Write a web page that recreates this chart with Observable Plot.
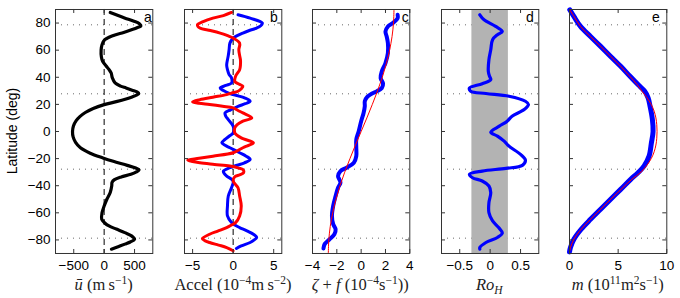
<!DOCTYPE html>
<html><head><meta charset="utf-8">
<script src="https://cdn.jsdelivr.net/npm/d3@7"></script>
<script src="https://cdn.jsdelivr.net/npm/@observablehq/plot@0.6"></script>
<style>
body{margin:0;background:#fff;}
#wrap{position:relative;width:680px;height:298px;overflow:hidden;background:#fff;}
#wrap svg{position:absolute;top:0;}
</style></head><body><div id="wrap"></div>
<script>
// ---- shared ----
const latTicks = [-80, -60, -40, -20, 0, 20, 40, 60, 80];
const dottedLats = [78.7, 27.8, -27.8, -78.7];

// ---- panel a: mean zonal wind ----
const latA = [87.8,85.5,83.6,81.5,79.5,78,76.5,75,73,71.4,69.5,67.7,64,60,55,51.8,48.5,46,43.2,39.5,35.8,33.5,32.1,30.5,29.2,28,26.8,25.5,24,22,19.8,17,14,11,8,4,0,-4,-8,-12,-16,-19.5,-22,-25,-27,-28.3,-29.8,-31.6,-33.5,-35.5,-37.5,-40,-45,-50,-55,-60,-64.8,-67.5,-69.7,-72,-74.6,-77,-79.5,-81.5,-83.1,-85,-86.8];
const uA = [100,230,345,480,580,605,540,450,320,190,80,10,-35,-50,-45,-25,30,75,115,135,180,270,360,460,540,570,530,460,360,200,0,-180,-310,-400,-460,-505,-520,-510,-470,-390,-230,-20,150,380,520,575,530,440,280,170,130,125,100,45,0,-35,-40,10,80,200,340,450,500,430,340,230,120];

// ---- panel b: accelerations ----
const latBred = [87.8,85.5,83.6,81,78.7,76.3,74.5,72.6,70.5,68.9,65.2,60.3,56,53,49,45.6,40.7,37,35,33.4,31.5,29.7,28.3,27.2,25.3,23.5,21.8,20.8,19.9,18.6,17.4,15.5,13.7,10.1,7.6,5,2.7,-1,-4.7,-8.3,-10.2,-12,-15.7,-18.2,-19.8,-21.1,-22.2,-23.1,-24.3,-25.5,-27,-28,-30.4,-32,-33.4,-36.5,-41.5,-47.6,-54.9,-62.3,-67.2,-69,-70.9,-73.5,-75.8,-79,-80.5,-81.9,-83.8,-85.6,-88];
const accBred = [-0.2,-1.2,-2.5,-3.7,-4.4,-4.1,-2.8,-1.6,-0.6,0,0.8,0.7,0.8,0.9,0.9,0.8,0.3,0.2,0.7,1.2,1.0,0.6,-0.2,-0.8,-2.5,-4.1,-5.0,-4.2,-2.9,-1.3,0,0.6,1.2,2.3,1.2,0.5,0.2,0.2,1.0,2.5,1.9,1.2,0,-2.5,-4.2,-5.6,-5.0,-4.1,-2.3,-0.4,0.7,1.2,1.3,0.8,0.2,0,0.6,0.8,1.0,0.8,0.3,-0.2,-0.8,-1.9,-2.9,-3.8,-3.5,-2.9,-1.8,-0.8,0];
const latBblue = [86.1,83.6,80,78,76.3,74.5,72.6,70.7,68.9,65.2,60.3,56,53,49,45.6,42,39.5,35.8,34,32.1,30.2,28,26.3,24.8,22.3,20.5,18.6,16,13.7,11.2,8.8,3.9,-1,-3.5,-5.9,-8.3,-10.2,-12,-15.7,-18.2,-20.6,-23.1,-24.9,-26.7,-29.2,-31,-32.9,-36.5,-41.5,-47.6,-54.9,-62.3,-67.2,-69,-70.9,-73.3,-75.8,-78.2,-80,-81.9,-84.4,-86.3];
const accBblue = [0.6,2.1,3.6,3.4,2.9,2.0,1.2,0.5,0,-0.4,-0.5,-0.6,-0.7,-0.8,-0.7,-0.5,-0.2,-0.2,-0.9,-1.6,-1.2,-0.4,0.6,1.4,2.1,1.5,0.6,-0.3,-1.0,-0.9,-0.6,0,0,-0.5,-1.0,-1.4,-1.0,-0.4,0.8,1.6,2.1,1.4,0.5,-0.4,-1.2,-1.1,-0.8,0,-0.2,-0.6,-0.7,-0.7,-0.2,0.2,0.8,1.7,2.5,2.9,2.6,2.1,1.0,0.4];

// ---- panel c: absolute vorticity ----
const latCblue = [86.1,83.6,80,77.5,73.8,70.1,65.2,57.9,50.5,44.4,39.5,35.3,32.1,29.7,28,25.5,22.3,18.6,13.7,7.6,0.2,-5.9,-12,-18.2,-23.1,-26.7,-29.2,-32.9,-35.3,-37.8,-41.5,-47.6,-54.9,-62.3,-68.4,-72.1,-75.8,-79.5,-83.1,-86.3];
const vortCblue = [3.0,3.0,2.6,2.2,2.0,2.1,2.2,2.2,2.0,1.7,1.6,1.8,1.7,1.3,0.9,0.5,0.3,0.3,0.2,0,-0.2,-0.4,-0.4,-0.4,-0.6,-1.2,-1.7,-1.9,-1.8,-1.7,-1.9,-2.1,-2.3,-2.4,-2.3,-2.1,-2.2,-2.6,-3.0,-3.1];
const latCred = [90,80,70,60,50,40,30,20,10,0,-10,-20,-30,-40,-50,-60,-70,-80,-90];
const vortCred = [2.70,2.66,2.54,2.34,2.07,1.74,1.35,0.92,0.47,0,-0.47,-0.92,-1.35,-1.74,-2.07,-2.34,-2.54,-2.66,-2.70];

// ---- panel d: Rossby number ----
const bandD = [-0.3, 0.3];
const latD = [86.1,82.4,77.5,73.8,71.4,67.7,60.3,53,44.4,40.7,38.3,35.3,32.1,29.7,28,26,22.3,19.9,16.2,11.3,7.6,3.9,-0.5,-3.4,-7.1,-10.8,-16.9,-21.1,-25,-27.2,-29.2,-31.6,-34.1,-36.5,-40.2,-45.1,-52.5,-59.8,-66,-70.9,-75,-78.2,-81.9,-85.6,-86.8];
const roD = [-0.17,-0.10,0.09,0.20,0.12,0.04,0.01,-0.02,-0.03,-0.01,0.01,-0.13,-0.34,-0.32,-0.07,0.31,0.58,0.63,0.56,0.36,0.28,0.15,0.01,0.12,0.23,0.31,0.50,0.58,0.53,0.26,-0.13,-0.34,-0.29,-0.13,-0.02,0.01,-0.02,-0.02,0.04,0.14,0.20,0.12,-0.07,-0.17,-0.17];

// ---- panel e: angular momentum ----
const latEblue = [89.8,84.9,77.5,70.1,62.8,55.4,48.1,40.7,34.6,29.7,24.8,18.6,8.8,0,-8.3,-18.2,-25.5,-30.4,-35.3,-42.7,-50,-57.4,-64.8,-72.1,-79.5,-85.6,-88.8];
const mEblue = [0.03,0.45,1.13,2.16,3.2,4.23,5.26,6.22,7.04,7.73,8.08,8.28,8.52,8.59,8.42,8.18,7.66,7.04,6.29,5.26,4.23,3.2,2.16,1.2,0.45,0.1,0];
const latEred = [89.8,85,77.5,70,62.8,55.4,48,40.7,34.6,29.7,25,20,15,10,5,0,-5,-10,-15,-20,-25,-30,-35.3,-42.7,-50,-57.4,-64.8,-72.1,-79.5,-85.6,-88.8];
const mEred = [0.03,0.45,1.13,2.16,3.2,4.23,5.26,6.2,6.95,7.45,7.95,8.4,8.7,8.88,8.97,9.0,8.97,8.88,8.7,8.4,7.95,7.35,6.4,5.3,4.23,3.2,2.16,1.2,0.45,0.1,0];

// ---- layout ----
const wrap = document.getElementById("wrap");
const W = 97.3, MT = 9, MB = 23, H = 276, PH = H - MT - MB;
const AX = "#333";
const fmt = d => String(d).replace("-", "\u2212");

function panel({left, ml, mr, xDomain, xTicks, letter, dx, marks, yAxis}) {
  const plot = Plot.plot({
    width: ml + W + mr, height: H,
    marginLeft: ml, marginRight: mr, marginTop: MT, marginBottom: MB,
    style: {background: "transparent", fontFamily: "'Liberation Sans', Arial, Helvetica, sans-serif", fontSize: "13.5px", color: "#000", overflow: "visible"},
    x: {domain: xDomain, axis: null},
    y: {domain: [-90, 90], axis: null},
    marks: [
      Plot.ruleY(dottedLats, {stroke: "#666", strokeDasharray: "1,5"}),
      ...marks,
      Plot.frame({stroke: AX}),
      Plot.tickX(xTicks, {x: d => d, insetTop: PH - 4, stroke: AX}),
      Plot.tickX(xTicks, {x: d => d, insetBottom: PH - 4, stroke: AX}),
      Plot.tickY(latTicks, {y: d => d, insetRight: W - 4, stroke: AX}),
      Plot.tickY(latTicks, {y: d => d, insetLeft: W - 4, stroke: AX}),
      Plot.axisX(xTicks, {anchor: "bottom", tickSize: 0, tickPadding: 7, label: null, tickFormat: fmt}),
      yAxis ? Plot.axisY(latTicks, {anchor: "left", tickSize: 0, tickPadding: 5, label: null, tickFormat: fmt}) : null,
      Plot.text([letter], {frameAnchor: "top-right", text: d => d, dx, dy: 13, lineAnchor: "bottom", fontSize: 14})
    ]
  });
  plot.style.left = (left - ml) + "px";
  wrap.append(plot);
}

panel({left: 55, ml: 55, mr: 15, xDomain: [-800, 800], xTicks: [-500, 0, 500], letter: "a", dx: -1, yAxis: true,
  marks: [
    Plot.ruleX([0], {stroke: "#000", strokeDasharray: "6,4"}),
    Plot.line(latA, {x: uA, y: latA, stroke: "#000", strokeWidth: 3.2, curve: "catmull-rom"})
  ]});

panel({left: 184.3, ml: 15, mr: 15, xDomain: [-6, 6], xTicks: [-5, 0, 5], letter: "b", dx: -4,
  marks: [
    Plot.ruleX([0], {stroke: "#000", strokeDasharray: "6,4"}),
    Plot.line(latBblue, {x: accBblue, y: latBblue, stroke: "#0000ff", strokeWidth: 3, curve: "catmull-rom"}),
    Plot.line(latBred, {x: accBred, y: latBred, stroke: "#ff0000", strokeWidth: 3, curve: "catmull-rom"})
  ]});

panel({left: 311.5, ml: 15, mr: 15, xDomain: [-4, 4], xTicks: [-4, -2, 0, 2, 4], letter: "c", dx: -1,
  marks: [
    Plot.line(latCblue, {x: vortCblue, y: latCblue, stroke: "#0000ff", strokeWidth: 4, curve: "catmull-rom"}),
    Plot.line(latCred, {x: vortCred, y: latCred, stroke: "#ff0000", strokeWidth: 1, curve: "catmull-rom"})
  ]});

panel({left: 440.7, ml: 15, mr: 15, xDomain: [-0.8, 0.8], xTicks: [-0.5, 0, 0.5], letter: "d", dx: -5,
  marks: [
    Plot.rect([bandD], {x1: d => d[0], x2: d => d[1], fill: "#b3b3b3"}),
    Plot.line(latD, {x: roD, y: latD, stroke: "#0000ff", strokeWidth: 3.2, curve: "catmull-rom"})
  ]});

panel({left: 569, ml: 15, mr: 15, xDomain: [0, 10], xTicks: [0, 5, 10], letter: "e", dx: -7,
  marks: [
    Plot.line(latEblue, {x: mEblue, y: latEblue, stroke: "#0000ff", strokeWidth: 5, curve: "catmull-rom"}),
    Plot.line(latEred, {x: mEred, y: latEred, stroke: "#ff0000", strokeWidth: 1, curve: "catmull-rom"})
  ]});

// ---- axis titles ----
const ov = d3.select(wrap).append("svg").attr("width", 680).attr("height", 298)
  .style("left", "0px").style("pointer-events", "none");
ov.append("text").attr("transform", "translate(16.5,131) rotate(-90)").attr("text-anchor", "middle")
  .attr("font-family", "'Liberation Sans', Arial, sans-serif").attr("font-size", 14).text("Latitude (deg)");

function title(x, parts) {
  const t = ov.append("text").attr("x", x).attr("y", 290).attr("text-anchor", "middle")
    .attr("font-family", "'Liberation Serif', 'Times New Roman', serif").attr("font-size", 16.5).attr("fill", "#222");
  let shift = 0;
  for (const [s, kind, italic] of parts) {
    const target = kind === "sup" ? -6.5 : kind === "sub" ? 4 : 0;
    const sp = t.append("tspan").text(s).attr("dy", target - shift);
    shift = target;
    if (kind) sp.attr("font-size", 11.5);
    if (italic) sp.attr("font-style", "italic");
  }
}
title(103.7, [["\u016B", null, true], [" (m\u2009s"], ["\u22121", "sup"], [")"]]);
title(233, [["Accel (10"], ["\u22124", "sup"], ["m\u2009s"], ["\u22122", "sup"], [")"]]);
title(360.2, [["\u03B6", null, true], [" + "], ["f", null, true], [" (10"], ["\u22124", "sup"], ["s"], ["\u22121", "sup"], ["))"]]);
title(489.3, [["Ro", null, true], ["H", "sub", true]]);
title(617.7, [["m", null, true], [" (10"], ["11", "sup"], ["m"], ["2", "sup"], ["s"], ["\u22121", "sup"], [")"]]);
</script>
</body></html>
